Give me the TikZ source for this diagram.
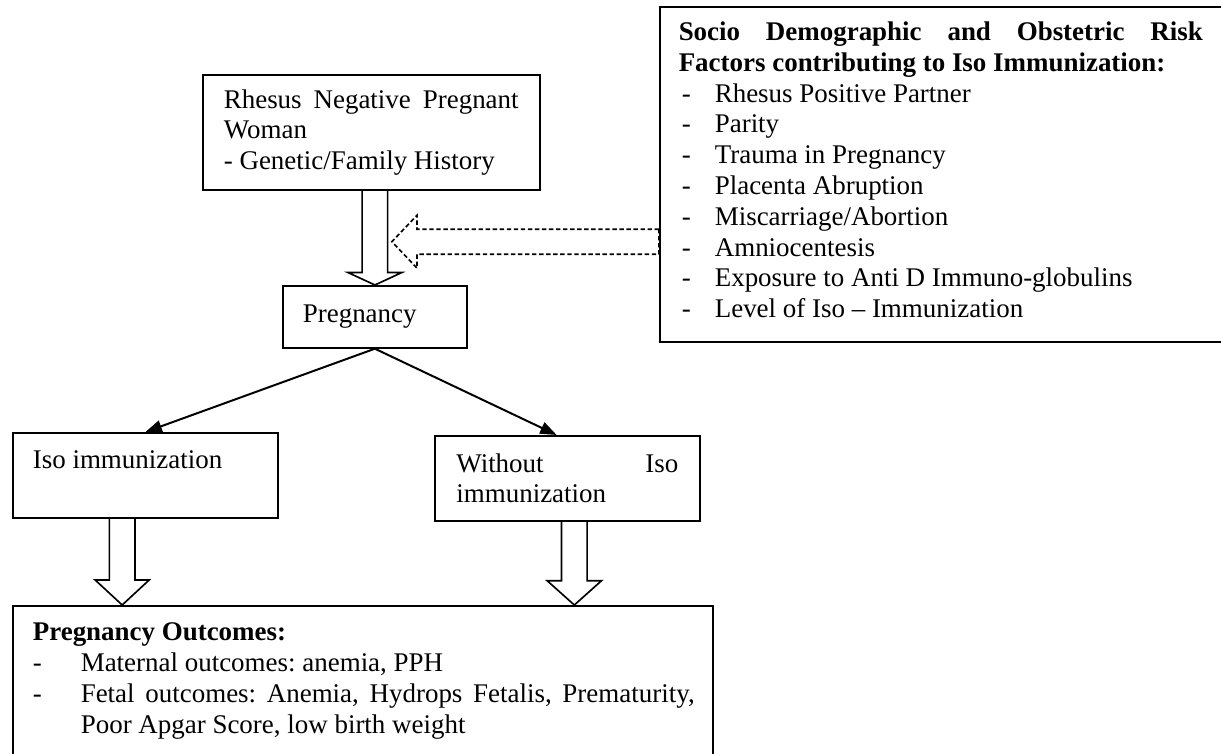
\documentclass[tikz,border=0pt]{standalone}
\usepackage{fontspec}
\setmainfont{Liberation Serif}
\usetikzlibrary{calc, arrows.meta}

\newcommand{\espaces}{\spaceskip=0pt\xspaceskip=0pt\frenchspacing}
\newcommand{\blocbas}[3]{%
  \draw[bloc] let \p1=(#1), \p2=(#2) in
    (\x1-5.8pt,\y1) -- (\x1-5.8pt,\y2+#3) -- (\x1-12.3pt,\y2+#3)
    -- (\x1,\y2) -- (\x1+12.3pt,\y2+#3) -- (\x1+5.8pt,\y2+#3) -- (\x1+5.8pt,\y1);}
\newcommand{\blocgauche}[3]{%
  \draw[pointille] let \p1=(#1), \p2=(#2) in
    (\x1,\y1+5.7pt) -- (\x2+#3,\y1+5.7pt) -- (\x2+#3,\y1+12pt) -- (\x2,\y1)
    -- (\x2+#3,\y1-12pt) -- (\x2+#3,\y1-5.7pt) -- (\x1,\y1-5.7pt) -- cycle;}

\begin{document}
\begin{tikzpicture}[x=0.4545pt, y=-0.4545pt,
      cadre/.style={draw, line width=0.75pt, align=left, anchor=north west,
                    font=\fontsize{12.25}{14}\selectfont, inner ysep=0pt,
                    execute at begin node=\espaces},
      fleche/.style={-{Triangle[length=7.5pt,width=5.5pt]}, line width=0.9pt},
      bloc/.style={line width=0.75pt},
      pointille/.style={line width=0.75pt, dash pattern=on 2pt off 1.2pt}]
    \useasboundingbox (0,0) rectangle (1221,753);
    \clip (0,0) rectangle (1221,753);
    \node[cadre, text width=134pt, inner xsep=9.55pt, minimum height=52.3pt]
      (rhesus) at (202,74)
      {\makebox[134pt][s]{Rhesus Negative Pregnant}\\Woman\\- Genetic/Family History};
    \node[cadre, text width=65.5pt, inner xsep=9.1pt, minimum height=28.2pt]
      (preg) at (282,285) {Pregnancy};
    \node[cadre, text width=102.3pt, inner xsep=9.1pt, minimum height=38.6pt]
      (iso) at (12,432) {Iso immunization\\\mbox{}};
    \node[cadre, text width=100.9pt, inner xsep=9.8pt, minimum height=38.6pt]
      (sansiso) at (434,435) {\makebox[100.9pt][s]{Without Iso}\\immunization};
    \node[cadre, text width=270pt, inner xsep=8.6pt, minimum height=152.3pt]
      (risque) at (659,6)
      {\makebox[238.2pt][s]{\bfseries Socio Demographic and Obstetric Risk}\\
       \textbf{Factors contributing to Iso Immunization:}\\
       \makebox[16.4pt][l]{\hspace{1.4pt}-}Rhesus Positive Partner\\
       \makebox[16.4pt][l]{\hspace{1.4pt}-}Parity\\
       \makebox[16.4pt][l]{\hspace{1.4pt}-}Trauma in Pregnancy\\
       \makebox[16.4pt][l]{\hspace{1.4pt}-}Placenta Abruption\\
       \makebox[16.4pt][l]{\hspace{1.4pt}-}Miscarriage/Abortion\\
       \makebox[16.4pt][l]{\hspace{1.4pt}-}Amniocentesis\\
       \makebox[16.4pt][l]{\hspace{1.4pt}-}Exposure to Anti D Immuno-globulins\\
       \makebox[16.4pt][l]{\hspace{1.4pt}-}Level of Iso -- Immunization\strut};
    \node[cadre, text width=300pt, inner xsep=9.1pt, inner ysep=7.8pt]
      (issue) at (12,605)
      {\textbf{Pregnancy Outcomes:}\\
       \makebox[21.8pt][l]{-}Maternal outcomes: anemia, PPH\\
       \makebox[21.8pt][l]{-}\makebox[279pt][s]{Fetal outcomes: Anemia, Hydrops Fetalis, Prematurity,}\\
       \hspace*{21.8pt}Poor Apgar Score, low birth weight\strut};
    \coordinate (f1) at (preg.north |- rhesus.south);
    \coordinate (f2) at ($(iso.south west)!0.413!(iso.south east)$);
    \coordinate (f3) at ($(sansiso.south west)!0.526!(sansiso.south east)$);
    \coordinate (d1) at ($(risque.north west)!0.70!(risque.south west)$);
    \coordinate (d2) at ($(d1 -| f1)+(17,0)$);
    \blocbas{f1}{preg.north}{5.7pt}
    \blocbas{f2}{f2 |- issue.north}{11.4pt}
    \blocbas{f3}{f3 |- issue.north}{11pt}
    \blocgauche{d1}{d2}{11.4pt}
    \draw[fleche] (preg.south) -- (iso.north);
    \draw[fleche] (preg.south) -- ($(sansiso.north west)!0.46!(sansiso.north east)$);
  \end{tikzpicture}
\end{document}
